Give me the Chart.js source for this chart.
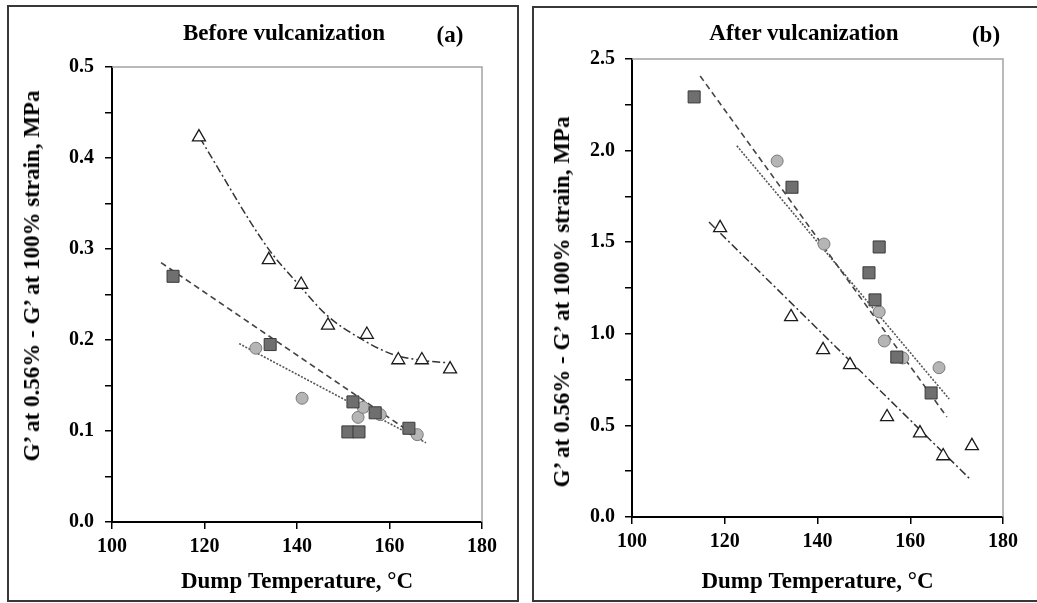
<!DOCTYPE html>
<html>
<head>
<meta charset="utf-8">
<script src="https://cdn.jsdelivr.net/npm/chart.js@4"></script>
<style>
  body { margin:0; background:#fff; width:1037px; height:603px; overflow:hidden; position:relative; font-family:"Liberation Serif", "Times New Roman", serif; }
  .panel { position:absolute; box-sizing:border-box; border:2px solid #383838; }
  canvas { position:absolute; top:0; }
  .lbl { position:absolute; font-weight:bold; color:#000; white-space:nowrap; transform:translate(-50%,-50%); }
  .ytitle { transform:translate(-50%,-50%) rotate(-90deg); }
</style>
</head>
<body>
<div class="panel" style="left:7px;top:5px;width:512px;height:597px"></div>
<div class="panel" style="left:532px;top:6px;width:520px;height:596px"></div>
<canvas id="chartA" width="520" height="603" style="left:0"></canvas>
<canvas id="chartB" width="517" height="603" style="left:520px"></canvas>
<div class="lbl" style="left:284px;top:33px;font-size:23px">Before vulcanization</div>
<div class="lbl" style="left:450px;top:35px;font-size:23px">(a)</div>
<div class="lbl" style="left:804px;top:33px;font-size:23px">After vulcanization</div>
<div class="lbl" style="left:986px;top:35px;font-size:23px">(b)</div>
<div class="lbl ytitle" style="left:32px;top:276px;font-size:23px">G’ at 0.56% - G’ at 100% strain, MPa</div>
<div class="lbl ytitle" style="left:562px;top:302px;font-size:23px">G’ at 0.56% - G’ at 100% strain, MPa</div>
<script>
// (a) before vulcanization
const tempSqA = [113.2, 134.2, 151.0, 152.1, 153.4, 156.9, 164.2];
const valSqA  = [0.270, 0.195, 0.099, 0.132, 0.099, 0.120, 0.103];
const tempCiA = [131.1, 141.1, 153.2, 154.3, 158.0, 166.0];
const valCiA  = [0.191, 0.136, 0.115, 0.126, 0.118, 0.096];
const tempTrA = [118.8, 133.9, 140.9, 146.7, 155.1, 161.9, 167.0, 173.1];
const valTrA  = [0.423, 0.288, 0.261, 0.216, 0.206, 0.178, 0.178, 0.168];
// trendlines
const fitSqA = [[110.6, 0.285], [167.0, 0.090]];
const fitCiA = [[127.5, 0.196], [167.9, 0.087]];
const fitTrA = [[119.0, 0.422], [133.7, 0.301], [140.0, 0.263], [146.5, 0.227],
                [153.6, 0.202], [160.8, 0.184], [166.6, 0.178], [172.4, 0.175]];

// (b) after vulcanization
const tempSqB = [113.4, 134.5, 151.1, 152.4, 153.3, 157.1, 164.5];
const valSqB  = [2.293, 1.800, 1.333, 1.185, 1.474, 0.873, 0.677];
const tempCiB = [131.3, 141.4, 153.3, 154.4, 158.4, 166.2];
const valCiB  = [1.943, 1.490, 1.120, 0.961, 0.868, 0.815];
const tempTrB = [119.0, 134.3, 141.2, 147.0, 155.0, 162.1, 167.1, 173.3];
const valTrB  = [1.578, 1.092, 0.912, 0.830, 0.546, 0.458, 0.333, 0.388];
const fitSqB = [[114.7, 2.407], [167.9, 0.546]];
const fitCiB = [[122.6, 2.026], [168.4, 0.644]];
const fitTrB = [[116.6, 1.610], [173.1, 0.202]];

const xTicks = [100, 120, 140, 160, 180];

const FONT = 'Liberation Serif';

function pts(xs, ys) { return xs.map((x, i) => ({ x: x, y: ys[i] })); }
function pairs(arr) { return arr.map(p => ({ x: p[0], y: p[1] })); }

// gray top/right edge of the plot area
const frame = {
  id: 'frame',
  beforeDatasetsDraw(chart) {
    const { ctx, chartArea: a } = chart;
    ctx.save();
    ctx.strokeStyle = '#a3a3a3';
    ctx.lineWidth = 1.5;
    ctx.beginPath();
    ctx.moveTo(a.left, a.top);
    ctx.lineTo(a.right, a.top);
    ctx.lineTo(a.right, a.bottom);
    ctx.stroke();
    ctx.restore();
  }
};

function makeChart(id, d) {
  const ctx = document.getElementById(id).getContext('2d');
  return new Chart(ctx, {
    type: 'scatter',
    data: {
      datasets: [
        { data: pts(d.tSq, d.vSq), pointStyle: 'rect', pointRadius: 8.5, backgroundColor: '#6f6f6f', borderColor: '#3a3a3a', borderWidth: 1, order: 1 },
        { data: pts(d.tCi, d.vCi), pointStyle: 'circle', pointRadius: 6, backgroundColor: '#b5b5b5', borderColor: '#7a7a7a', borderWidth: 1, order: 1 },
        { data: pts(d.tTr, d.vTr), pointStyle: 'triangle', pointRadius: 7.5, backgroundColor: '#fff', borderColor: '#1a1a1a', borderWidth: 1.3, order: 0 },
        { data: pairs(d.fSq), showLine: true, pointRadius: 0, borderColor: '#444', borderWidth: 1.6, borderDash: [6, 4], order: 5 },
        { data: pairs(d.fCi), showLine: true, pointRadius: 0, borderColor: '#555', borderWidth: 1.6, borderDash: [2, 1.5], order: 5 },
        { data: pairs(d.fTr), showLine: true, pointRadius: 0, borderColor: '#333', borderWidth: 1.5, borderDash: [8, 3, 2, 3], tension: 0.4, cubicInterpolationMode: 'monotone', order: 5 }
      ]
    },
    options: {
      responsive: false,
      animation: false,
      layout: { padding: { top: d.padTop, right: d.padRight, left: 0, bottom: 0 } },
      plugins: { legend: { display: false }, tooltip: { enabled: false } },
      scales: {
        x: {
          type: 'linear', min: 100, max: 180,
          afterFit: s => { s.height = d.xH; },
          afterBuildTicks: s => { s.ticks = xTicks.map(v => ({ value: v })); },
          grid: { drawOnChartArea: false, drawTicks: true, tickLength: 7, color: '#000', lineWidth: 1.5 },
          border: { display: true, color: '#000', width: 2 },
          ticks: { padding: 6, color: '#000', autoSkip: false, font: { family: FONT, size: 20, weight: 'bold' }, maxRotation: 0 },
          title: { display: true, text: 'Dump Temperature, °C', color: '#000', font: { family: FONT, size: 23, weight: 'bold' }, padding: { top: 0, bottom: 7 } }
        },
        y: {
          type: 'linear', min: 0, max: d.yMax,
          afterFit: s => { s.width = 112; },
          grid: { drawOnChartArea: false, drawTicks: true, tickLength: 7, color: '#000', lineWidth: 1.5 },
          border: { display: true, color: '#000', width: 2 },
          ticks: {
            stepSize: d.minor, padding: d.yPad, color: '#000', autoSkip: false,
            font: { family: FONT, size: 20, weight: 'bold' },
            callback: v => (Math.abs(v / d.major - Math.round(v / d.major)) < 1e-6 ? v.toFixed(1) : '')
          }
        }
      }
    },
    plugins: [frame]
  });
}

makeChart('chartA', {
  tSq: tempSqA, vSq: valSqA, tCi: tempCiA, vCi: valCiA, tTr: tempTrA, vTr: valTrA,
  fSq: fitSqA, fCi: fitCiA, fTr: fitTrA,
  yMax: 0.5, major: 0.1, minor: 0.05, padTop: 67, padRight: 38, xH: 81, yPad: 11
});
makeChart('chartB', {
  tSq: tempSqB, vSq: valSqB, tCi: tempCiB, vCi: valCiB, tTr: tempTrB, vTr: valTrB,
  fSq: fitSqB, fCi: fitCiB, fTr: fitTrB,
  yMax: 2.5, major: 0.5, minor: 0.25, padTop: 59, padRight: 34, xH: 86, yPad: 10
});
</script>
</body>
</html>
